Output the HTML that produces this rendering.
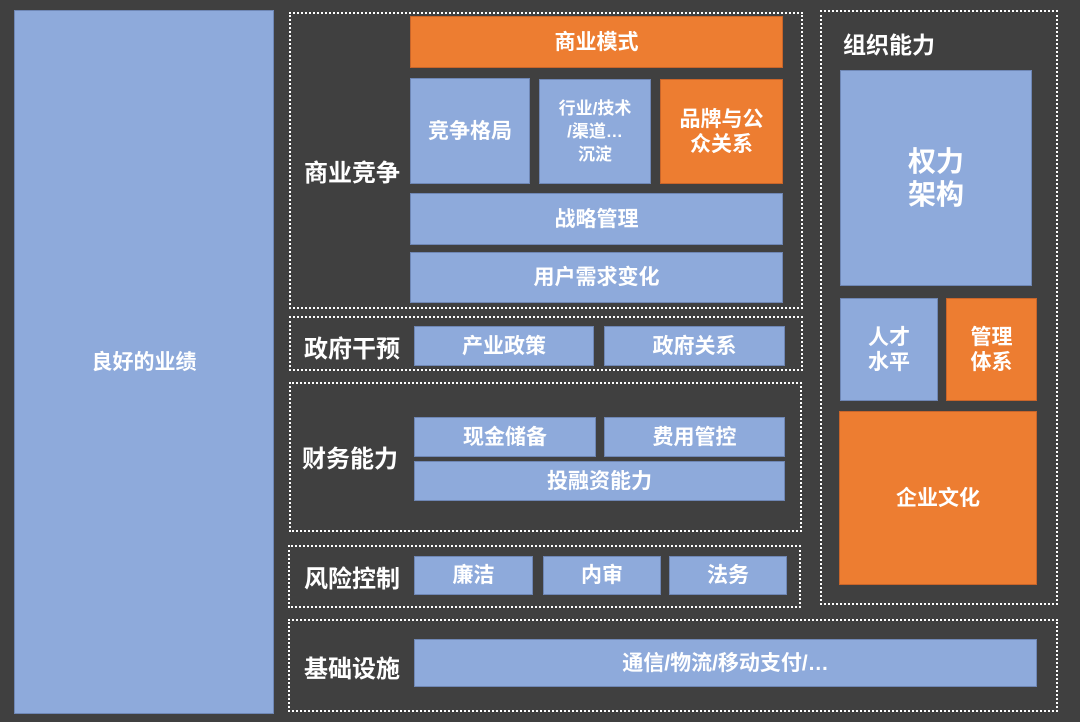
<!DOCTYPE html>
<html><head><meta charset="utf-8"><style>
body{margin:0;width:1080px;height:722px;background:#404040;position:relative;overflow:hidden;font-family:"Liberation Sans","Noto Sans CJK SC",sans-serif;font-weight:bold;color:#fff}
div{position:absolute;box-sizing:border-box}
.b{background:#8eaadb;display:flex;align-items:center;justify-content:center;text-align:center;font-size:21px;line-height:25px;border:1px solid #6f87b5}
.o{background:#ed7d31;display:flex;align-items:center;justify-content:center;text-align:center;font-size:21px;line-height:25px;border:1px solid #c9652a}
.d{border:2px dotted #fff}
.l{font-size:24px;display:flex;align-items:center}
</style></head><body>
<div class="b" style="left:14px;top:10px;width:260px;height:704px">良好的业绩</div>

<div class="d" style="left:289px;top:12px;width:514px;height:297px"></div>
<div class="l" style="left:304px;top:150px;height:40px">商业竞争</div>
<div class="o" style="left:410px;top:16px;width:373px;height:52px">商业模式</div>
<div class="b" style="left:410px;top:78px;width:120px;height:106px">竞争格局</div>
<div class="b" style="left:539px;top:79px;width:112px;height:105px;font-size:17px;line-height:23px">行业/技术<br>/渠道…<br>沉淀</div>
<div class="o" style="left:660px;top:79px;width:123px;height:105px">品牌与公<br>众关系</div>
<div class="b" style="left:410px;top:193px;width:373px;height:52px">战略管理</div>
<div class="b" style="left:410px;top:252px;width:373px;height:51px">用户需求变化</div>

<div class="d" style="left:289px;top:316px;width:514px;height:55px"></div>
<div class="l" style="left:304px;top:326px;height:40px">政府干预</div>
<div class="b" style="left:414px;top:326px;width:180px;height:40px">产业政策</div>
<div class="b" style="left:604px;top:326px;width:181px;height:40px">政府关系</div>

<div class="d" style="left:289px;top:382px;width:513px;height:150px"></div>
<div class="l" style="left:302px;top:436px;height:40px">财务能力</div>
<div class="b" style="left:414px;top:417px;width:182px;height:40px">现金储备</div>
<div class="b" style="left:604px;top:417px;width:181px;height:40px">费用管控</div>
<div class="b" style="left:414px;top:461px;width:371px;height:40px">投融资能力</div>

<div class="d" style="left:288px;top:545px;width:513px;height:63px"></div>
<div class="l" style="left:304px;top:556px;height:40px">风险控制</div>
<div class="b" style="left:414px;top:556px;width:119px;height:39px">廉洁</div>
<div class="b" style="left:543px;top:556px;width:118px;height:39px">内审</div>
<div class="b" style="left:669px;top:556px;width:118px;height:39px">法务</div>

<div class="d" style="left:288px;top:619px;width:770px;height:93px"></div>
<div class="l" style="left:304px;top:646px;height:40px">基础设施</div>
<div class="b" style="left:414px;top:639px;width:623px;height:48px">通信/物流/移动支付/…</div>

<div class="d" style="left:820px;top:10px;width:238px;height:595px"></div>
<div class="l" style="left:843px;top:24px;height:38px;font-size:23px">组织能力</div>
<div class="b" style="left:840px;top:70px;width:192px;height:216px;font-size:28px;line-height:33px">权力<br>架构</div>
<div class="b" style="left:840px;top:298px;width:98px;height:103px">人才<br>水平</div>
<div class="o" style="left:946px;top:298px;width:91px;height:103px">管理<br>体系</div>
<div class="o" style="left:839px;top:411px;width:198px;height:174px">企业文化</div>
</body></html>
